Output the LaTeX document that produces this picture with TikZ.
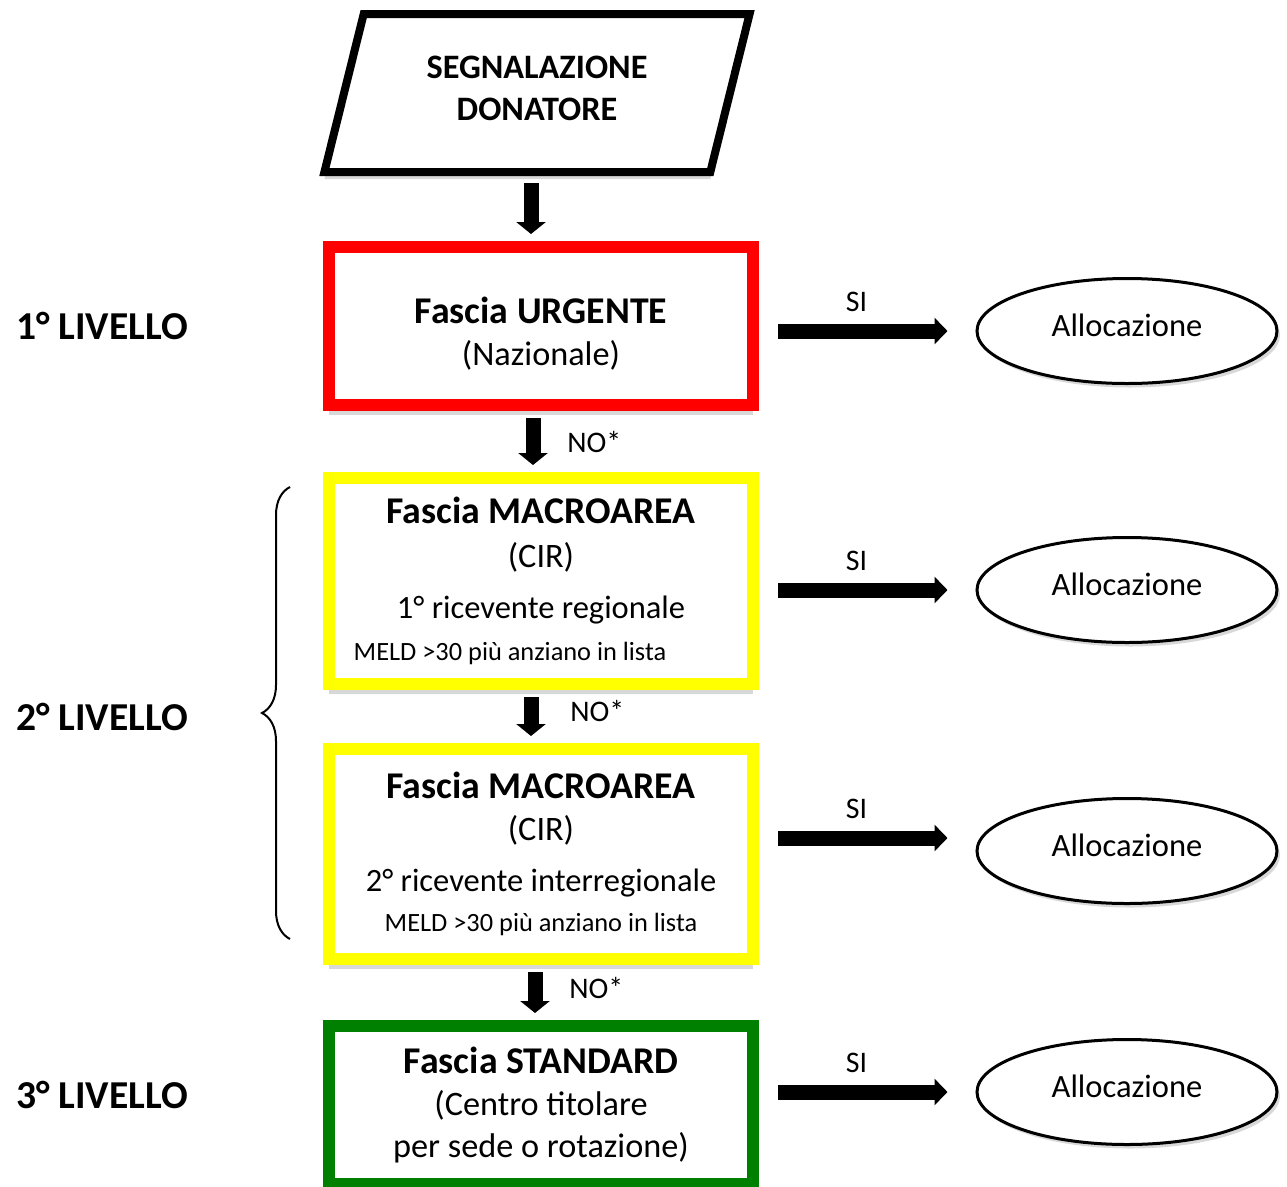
\documentclass[tikz,border=0pt]{standalone}
\usepackage{fontspec}
\setmainfont{Carlito}
\usetikzlibrary{arrows.meta,positioning,shapes.geometric,calc,decorations.pathreplacing,shadows}

\definecolor{urgred}{RGB}{255,0,0}
\definecolor{macroyellow}{RGB}{255,255,0}
\definecolor{stdgreen}{RGB}{0,128,0}

\newcommand{\fasciatitle}[1]{{\fontsize{21.5}{24}\selectfont\bfseries #1}}
\newcommand{\riceventeline}[1]{{\fontsize{18.5}{24}\selectfont #1}}
\newcommand{\meldline}[1]{{\fontsize{15}{18}\selectfont #1}}

\begin{document}
\begin{tikzpicture}[
  fascia/.style={draw, line width=0.24cm, minimum width=8.48cm, align=center, inner sep=0pt, fill=white,
    font=\fontsize{19.5}{24}\selectfont, drop shadow={shadow xshift=0cm, shadow yshift=-0.2cm, fill=gray!60}},
  alloc/.style={draw, ellipse, line width=0.06cm, minimum width=6cm, minimum height=2.1cm, fill=white,
    font=\fontsize{18.5}{22}\selectfont, drop shadow={shadow xshift=0.06cm, shadow yshift=-0.08cm, fill=gray!60}},
  downarr/.style={line width=0.3cm, -{Triangle[length=0.24cm, width=0.58cm]}, shorten <=0.14cm, shorten >=0.14cm},
  siarr/.style={line width=0.3cm, -{Triangle[length=0.26cm, width=0.52cm]}, shorten <=0.38cm, shorten >=0.56cm},
  level/.style={anchor=west, font=\fontsize{22.5}{27}\selectfont\bfseries},
  lab/.style={font=\fontsize{17}{20}\selectfont}
]
\useasboundingbox (0,0) rectangle (25.74,-23.72);

% Start
\node[draw, trapezium, trapezium left angle=73, trapezium right angle=107, trapezium stretches,
  minimum width=8.52cm, minimum height=3.16cm, line width=0.16cm, align=center, fill=white,
  font=\fontsize{19.5}{24}\selectfont\bfseries,
  drop shadow={shadow xshift=0cm, shadow yshift=-0.14cm, fill=gray!60}] (donor) at (10.74,-1.86) {SEGNALAZIONE\\DONATORE\rule[-5.6pt]{0pt}{5.6pt}};

% Fasce
\node[fascia, draw=urgred, minimum height=3.16cm] (urg) at (10.82,-6.52) {\rule{0pt}{24pt}\fasciatitle{Fascia URGENTE}\\(Nazionale)};
\node[fascia, draw=macroyellow, minimum height=4.12cm] (macro1) at (10.82,-11.62) {\fasciatitle{Fascia MACROAREA}\\[1pt](CIR)\\[5pt]\riceventeline{1° ricevente regionale}\\\hspace*{-1.24cm}\meldline{MELD >30 più anziano in lista}};
\node[fascia, draw=macroyellow, minimum height=4.2cm] (macro2) at (10.82,-17.08) {\fasciatitle{Fascia MACROAREA}\\[0pt](CIR)\\[5pt]\riceventeline{2° ricevente interregionale}\\[-1pt]\meldline{MELD >30 più anziano in lista}};
\node[fascia, draw=stdgreen, minimum height=3.16cm] (std) at (10.82,-22.10) {\fasciatitle{Fascia STANDARD}\\(Centro titolare\\per sede o rotazione)};

% Allocazione
\node[alloc] (alloc1) at (22.54,-6.62) {\raisebox{0.24cm}{Allocazione}};
\node[alloc] (alloc2) at (22.54,-11.80) {\raisebox{0.24cm}{Allocazione}};
\node[alloc] (alloc3) at (22.54,-17.02) {\raisebox{0.24cm}{Allocazione}};
\node[alloc] (alloc4) at (22.54,-21.84) {\raisebox{0.24cm}{Allocazione}};

% Livelli
\node[level] (liv1) at (0.2,-6.52) {1° LIVELLO};
\node[level] (liv2) at (0.2,-14.34) {2° LIVELLO};
\node[level] (liv3) at (0.2,-21.90) {3° LIVELLO};
\draw[decorate, decoration={brace, amplitude=0.56cm}, line width=0.04cm] (5.8,-18.78) -- (5.8,-9.74);

% Frecce verticali
\draw[downarr] ([xshift=-0.12cm]donor.south) -- ([xshift=-0.12cm]donor.south |- urg.north);
\draw[downarr] ([xshift=-0.16cm]urg.south) -- ([xshift=-0.16cm]urg.south |- macro1.north) node[midway, right=0.42cm, lab] {NO*};
\draw[downarr] ([xshift=-0.2cm]macro1.south) -- ([xshift=-0.2cm]macro1.south |- macro2.north) node[midway, right=0.52cm, yshift=0.12cm, lab] {NO*};
\draw[downarr] ([xshift=-0.12cm]macro2.south) -- ([xshift=-0.12cm]macro2.south |- std.north) node[midway, right=0.42cm, yshift=0.1cm, lab] {NO*};

% Frecce SI
\draw[siarr] (urg.east |- alloc1) -- (alloc1) node[pos=0.45, above=0.12cm, lab] {SI};
\draw[siarr] (macro1.east |- alloc2) -- (alloc2) node[pos=0.45, above=0.12cm, lab] {SI};
\draw[siarr] ([yshift=0.26cm]macro2.east |- alloc3) -- ([yshift=0.26cm]alloc3.west) node[pos=0.45, above=0.12cm, lab] {SI};
\draw[siarr] (std.east |- alloc4) -- (alloc4) node[pos=0.45, above=0.12cm, lab] {SI};

\end{tikzpicture}
\end{document}
